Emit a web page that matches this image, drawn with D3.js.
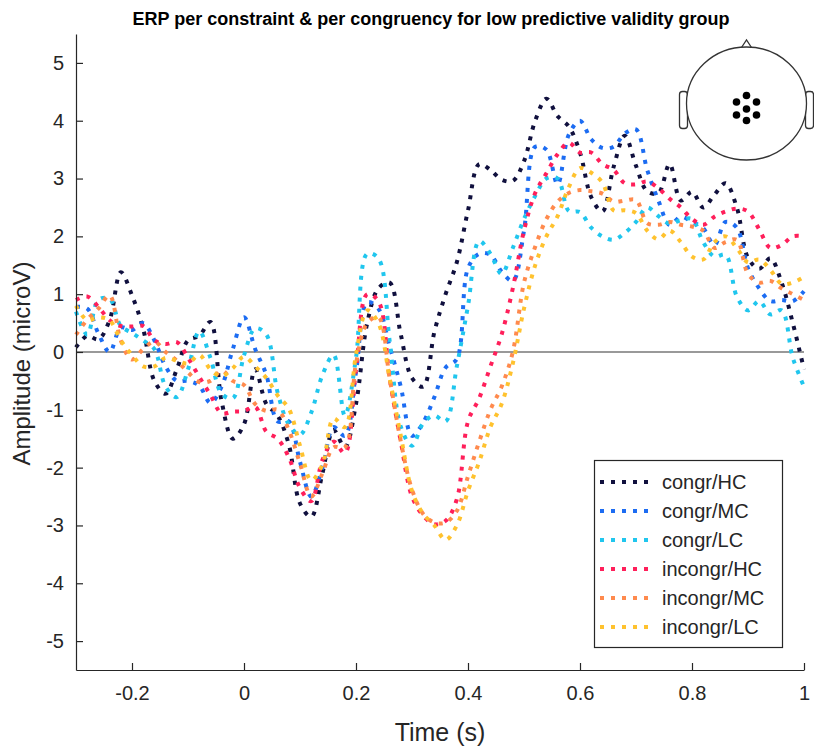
<!DOCTYPE html>
<html>
<head>
<meta charset="utf-8">
<script src="https://cdn.jsdelivr.net/npm/d3@7"></script>
<style>
  body { margin: 0; background: #fff; }
  svg { display: block; font-family: "Liberation Sans", Arial, sans-serif; }
</style>
</head>
<body>
<svg id="chart" width="814" height="747"></svg>
<script>
// Time grid (s)
const times = [-0.30,-0.28,-0.26,-0.24,-0.22,-0.20,-0.18,-0.16,-0.14,-0.12,
  -0.10,-0.08,-0.06,-0.04,-0.02,0.00,0.02,0.04,0.06,0.08,
  0.10,0.12,0.14,0.16,0.18,0.20,0.22,0.24,0.26,0.28,
  0.30,0.32,0.34,0.36,0.38,0.40,0.42,0.44,0.46,0.48,
  0.50,0.52,0.54,0.56,0.58,0.60,0.62,0.64,0.66,0.68,
  0.70,0.72,0.74,0.76,0.78,0.80,0.82,0.84,0.86,0.88,
  0.90,0.92,0.94,0.96,0.98,1.00];

// Mean amplitude per condition (microV)
const congrHC = [0.08,0.28,0.22,0.55,1.38,0.98,0.40,-0.50,-0.72,-0.30,
  0.20,0.28,0.52,-0.85,-1.50,-1.25,-0.30,-0.90,-1.10,-1.60,
  -2.62,-2.85,-2.10,-1.35,-1.65,-0.90,0.50,1.10,1.20,0.30,
  -0.45,-0.60,0.35,1.00,1.55,2.45,3.25,3.15,2.98,2.96,
  3.30,4.00,4.38,4.08,3.90,3.45,2.68,2.43,3.20,3.74,
  3.22,2.78,2.75,3.25,2.62,2.77,2.50,2.72,2.92,2.50,
  1.63,1.44,1.62,1.20,0.50,-0.30];
const congrMC = [0.78,0.75,0.32,0.00,0.42,0.38,0.50,0.20,-0.25,-0.50,
  -0.50,-0.58,-0.88,-0.60,0.05,0.60,0.05,-0.40,-1.20,-1.20,
  -1.90,-2.50,-2.00,-1.30,-1.45,-0.35,0.86,0.75,0.10,-0.60,
  -1.45,-1.22,-0.78,-0.27,-0.12,1.45,1.70,1.68,1.39,1.23,
  2.10,3.55,3.50,2.90,3.76,4.00,3.68,3.53,3.55,3.78,
  3.85,3.15,2.62,2.20,2.34,2.25,2.14,1.85,2.25,2.15,
  1.45,1.10,0.88,0.90,0.88,1.05];
const congrLC = [0.70,0.30,0.90,0.92,0.45,0.33,0.20,0.05,-0.60,-0.78,
  -0.30,0.36,-0.10,-0.72,-0.80,-0.06,0.41,0.30,-0.70,-1.25,
  -1.43,-1.05,-0.40,-0.05,-1.10,-0.10,1.70,1.62,0.20,-1.29,
  -1.62,-1.23,-1.10,-1.20,-0.25,0.80,1.92,1.70,1.35,1.80,
  2.30,2.70,3.00,3.00,2.44,2.42,2.15,2.00,1.94,2.06,
  2.25,2.50,2.35,2.22,2.28,2.30,1.90,1.65,1.68,0.96,
  0.72,0.88,0.65,0.72,-0.10,-0.60];
const incongrHC = [0.90,0.96,0.78,0.55,0.45,0.44,0.45,0.20,0.14,0.17,
  -0.10,-0.43,-0.74,-1.06,-1.03,-1.02,-0.95,-1.38,-1.50,-1.82,
  -2.35,-2.58,-1.87,-1.55,-1.75,-0.30,1.00,0.88,-0.45,-1.55,
  -2.50,-2.83,-2.98,-2.92,-2.55,-1.20,-0.80,-0.25,0.30,1.10,
  2.10,2.75,3.09,3.42,3.62,3.45,3.45,3.25,3.15,2.92,
  2.90,2.95,2.83,2.65,2.50,2.30,2.20,2.34,2.43,2.48,
  2.43,2.12,1.80,1.85,2.00,2.00];
const incongrMC = [0.30,0.56,0.75,0.98,0.20,-0.13,0.05,0.18,0.00,-0.15,
  -0.35,-0.52,-0.50,-0.32,-0.50,-0.57,-0.90,-1.02,-1.00,-1.35,
  -1.93,-2.50,-2.10,-1.65,-1.65,-0.20,0.50,0.60,-0.45,-1.55,
  -2.38,-2.80,-2.95,-2.95,-2.75,-2.15,-1.55,-1.00,-0.60,0.00,
  1.20,1.82,2.30,2.60,2.75,2.80,2.78,2.74,2.60,2.62,
  2.63,2.23,2.20,2.25,2.20,2.17,2.10,1.80,1.90,1.94,
  1.35,1.20,1.23,1.10,1.00,0.90];
const incongrLC = [0.80,0.55,0.60,0.55,0.20,-0.05,-0.25,-0.25,-0.10,-0.15,
  -0.20,-0.05,-0.30,-0.42,-0.28,-0.08,-0.25,-0.45,-0.75,-0.98,
  -1.62,-2.22,-1.95,-1.15,-1.30,-0.05,0.72,0.50,-0.45,-1.45,
  -2.40,-2.80,-3.00,-3.25,-3.00,-2.40,-1.90,-1.30,-0.90,-0.20,
  0.75,1.50,2.00,2.35,2.85,3.18,3.10,2.93,2.45,2.45,
  2.40,2.10,1.95,2.10,1.90,1.65,1.60,1.90,2.00,1.80,
  1.55,1.60,1.42,1.18,1.20,1.30];

const seriesNames = ["congr/HC","congr/MC","congr/LC","incongr/HC","incongr/MC","incongr/LC"];
const seriesValues = [congrHC, congrMC, congrLC, incongrHC, incongrMC, incongrLC];
const seriesColors = ["#10103e","#1c6cf2","#20c6ee","#ff1f5a","#ff8a4d","#ffc22e"];

const xTicks = [-0.2, 0, 0.2, 0.4, 0.6, 0.8, 1];
const yTicks = [-5,-4,-3,-2,-1,0,1,2,3,4,5];

const titleText = "ERP per constraint & per congruency for low predictive validity group";
const xLabel = "Time (s)";
const yLabel = "Amplitude (microV)";

const svg = d3.select("#chart");
const axisColor = "#262626";

const x = d3.scaleLinear().domain([-0.3, 1]).range([76, 804]);
const y = d3.scaleLinear().domain([-5.5, 5.5]).range([670, 34]);

// zero reference line
svg.append("line")
  .attr("x1", x(-0.3)).attr("x2", x(1))
  .attr("y1", y(0)).attr("y2", y(0))
  .attr("stroke", "#777").attr("stroke-width", 1.6);

// ERP traces
const line = d3.line()
  .x((d, i) => x(times[i]))
  .y(d => y(d))
  .curve(d3.curveCatmullRom.alpha(0.5));

const traces = svg.append("g").attr("class", "traces");
seriesValues.forEach((vals, k) => {
  traces.append("path")
    .datum(vals)
    .attr("d", line)
    .attr("fill", "none")
    .attr("stroke", seriesColors[k])
    .attr("stroke-width", 4)
    .attr("stroke-dasharray", "4 7");
});

// axes (ticks pointing inward, no box)
const fmt = d => d3.format("")(d).replace("−", "-");
const xAxis = d3.axisBottom(x).tickValues(xTicks).tickFormat(fmt).tickSizeInner(-7).tickSizeOuter(0).tickPadding(16);
const yAxis = d3.axisLeft(y).tickValues(yTicks).tickFormat(fmt).tickSizeInner(-7).tickSizeOuter(0).tickPadding(12);

const gx = svg.append("g").attr("transform", `translate(0,${y(-5.5)})`).call(xAxis);
const gy = svg.append("g").attr("transform", `translate(${x(-0.3)},0)`).call(yAxis);
[gx, gy].forEach(g => {
  g.select(".domain").attr("stroke", axisColor).attr("stroke-width", 1.2);
  g.selectAll(".tick line").attr("stroke", axisColor).attr("stroke-width", 1.2);
  g.selectAll(".tick text").attr("fill", axisColor)
    .style("font-family", '"Liberation Sans", Arial, sans-serif')
    .style("font-size", "20px");
});

// title and axis labels
svg.append("text")
  .attr("x", 431).attr("y", 25)
  .attr("text-anchor", "middle")
  .attr("font-weight", "bold")
  .attr("font-size", 18)
  .attr("fill", "#000")
  .text(titleText);

svg.append("text")
  .attr("x", x(0.35)).attr("y", 741)
  .attr("text-anchor", "middle")
  .attr("font-size", 25)
  .attr("fill", axisColor)
  .text(xLabel);

svg.append("text")
  .attr("transform", `translate(30,${y(-0.2)}) rotate(-90)`)
  .attr("text-anchor", "middle")
  .attr("font-size", 24)
  .attr("fill", axisColor)
  .text(yLabel);

// legend
const legend = svg.append("g").attr("class", "legend");
legend.append("rect")
  .attr("x", 594.5).attr("y", 460.5).attr("width", 188).attr("height", 187)
  .attr("fill", "#fff").attr("stroke", axisColor).attr("stroke-width", 1.2);
seriesNames.forEach((name, k) => {
  const cy = 482 + k * 29;
  legend.append("line")
    .attr("x1", 600).attr("x2", 654).attr("y1", cy).attr("y2", cy)
    .attr("stroke", seriesColors[k]).attr("stroke-width", 4)
    .attr("stroke-dasharray", "4 7");
  legend.append("text")
    .attr("x", 662).attr("y", cy + 7)
    .attr("font-size", 20).attr("fill", axisColor)
    .text(name);
});

// scalp map showing the electrode cluster
const head = svg.append("g").attr("class", "head")
  .attr("fill", "none").attr("stroke", "#333").attr("stroke-width", 1.3);
const hc = { x: 746.5, y: 103.5, rx: 60, ry: 56.5 };
head.append("path")
  .attr("d", `M${hc.x - 5},${hc.y - hc.ry + 0.5} L${hc.x},${hc.y - hc.ry - 7} L${hc.x + 5},${hc.y - hc.ry + 0.5}`)
  .attr("fill", "#fff");
[-1, 1].forEach(s => {
  head.append("rect")
    .attr("x", s < 0 ? hc.x - hc.rx - 7 : hc.x + hc.rx - 1)
    .attr("y", hc.y - 12).attr("width", 8).attr("height", 37)
    .attr("rx", 3).attr("fill", "#fff");
});
head.append("ellipse")
  .attr("cx", hc.x).attr("cy", hc.y).attr("rx", hc.rx).attr("ry", hc.ry)
  .attr("fill", "#fff");
const electrodes = [[0,0],[0,-13.5],[0,11.5],[-10,-7],[10,-7],[-10,6],[10,6]];
svg.append("g").selectAll("circle").data(electrodes).join("circle")
  .attr("cx", d => hc.x + d[0]).attr("cy", d => hc.y + 5.5 + d[1])
  .attr("r", 3.8).attr("fill", "#000");
</script>
</body>
</html>
